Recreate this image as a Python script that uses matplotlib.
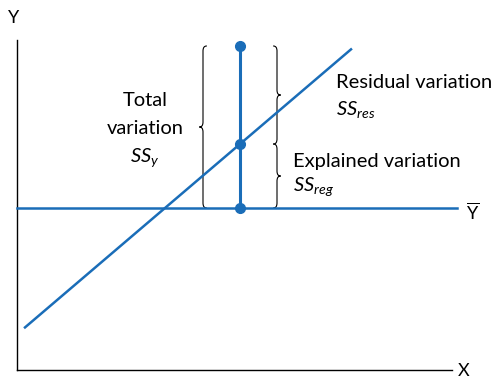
import matplotlib
matplotlib.use("Agg")
import matplotlib.pyplot as plt
from matplotlib.path import Path
from matplotlib.patches import PathPatch

# Conceptual values (units of the drawing, origin at the axes corner)
x_max, y_max = 435, 330          # axis extents
y_mean = 162                      # mean of Y
x_i = 223                         # the observation's x
y_obs = 324                       # observed Y
reg_x = [8, 334]                  # regression line x-range
reg_slope = 0.853
reg_x0 = 148                      # where regression crosses the mean

BLUE = "#1a6db8"
FONT = "Lato"
FS = 14.5
plt.rcParams["font.family"] = [FONT, "DejaVu Sans"]
plt.rcParams["mathtext.fontset"] = "custom"
plt.rcParams["mathtext.it"] = f"{FONT}:italic"
plt.rcParams["mathtext.rm"] = FONT


def reg(x):
    return y_mean + reg_slope * (x - reg_x0)


def brace(ax, x, y0, y1, side, w=3.5, r=5):
    """Vertical curly brace from y0 to y1; tip points to `side` (-1 left, +1 right)."""
    s = side
    ym = (y0 + y1) / 2
    verts = [
        (x - s * w, y1), (x, y1), (x, y1 - r),
        (x, ym + r),
        (x, ym), (x + s * w, ym),
        (x, ym), (x, ym - r),
        (x, y0 + r),
        (x, y0), (x - s * w, y0),
    ]
    codes = [Path.MOVETO, Path.CURVE3, Path.CURVE3,
             Path.LINETO,
             Path.CURVE3, Path.CURVE3,
             Path.CURVE3, Path.CURVE3,
             Path.LINETO,
             Path.CURVE3, Path.CURVE3]
    ax.add_patch(PathPatch(Path(verts, codes), fill=False, lw=0.8, color="black",
                           capstyle="round", joinstyle="round"))


y_hat = reg(x_i)

fig = plt.figure(figsize=(4.95, 3.78), dpi=100)
ax = fig.add_axes([0, 0, 1, 1])
ax.set_xlim(-17, 478)
ax.set_ylim(-8, 370)
ax.set_axis_off()

# axes
ax.plot([0, 0], [0, y_max], color="black", lw=1.0)
ax.plot([0, x_max], [0, 0], color="black", lw=1.0)
ax.text(-3, 352, "Y", fontsize=13, ha="center", va="center")
ax.text(447, -1, "X", fontsize=13, ha="center", va="center")

# mean line and regression line
ax.plot([0, 440], [y_mean, y_mean], color=BLUE, lw=1.8)
ax.text(456, y_mean - 4, r"$\overline{\mathrm{Y}}$", fontsize=13, ha="center", va="center")
ax.plot(reg_x, [reg(v) for v in reg_x], color=BLUE, lw=1.8)

# vertical deviation with points
ax.plot([x_i, x_i], [y_mean, y_obs], color=BLUE, lw=2.2)
ax.plot([x_i] * 3, [y_mean, y_hat, y_obs], "o", color=BLUE, ms=7)

# braces
brace(ax, x_i - 37, y_mean, y_obs, -1)
brace(ax, x_i + 37, y_hat, y_obs, +1)
brace(ax, x_i + 37, y_mean, y_hat, +1)

# labels
ax.text(128, 270, "Total", fontsize=FS, ha="center", va="center")
ax.text(128, 242, "variation", fontsize=FS, ha="center", va="center")
ax.text(128, 212, r"$SS_y$", fontsize=FS, ha="center", va="center")
ax.text(319, 287, "Residual variation", fontsize=FS, ha="left", va="center")
ax.text(319, 260, r"$SS_{res}$", fontsize=FS, ha="left", va="center")
ax.text(276, 209, "Explained variation", fontsize=FS, ha="left", va="center")
ax.text(276, 183, r"$SS_{reg}$", fontsize=FS, ha="left", va="center")

fig.savefig("out.png", dpi=100)
